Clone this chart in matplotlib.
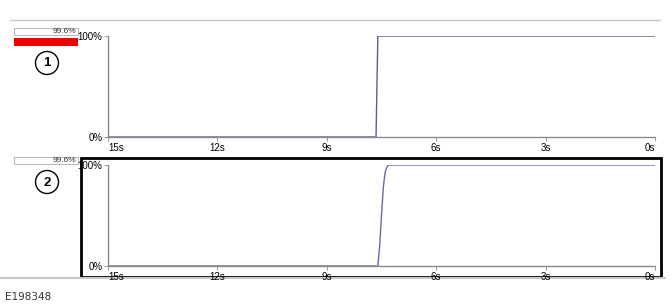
import matplotlib.pyplot as plt
from matplotlib.patches import Rectangle, Circle

# Trace 1: sharp step, trace 2: slightly slower rise (time runs from 15s down to 0s)
t1 = [15, 7.65, 7.6, 0]
v1 = [0, 0, 100, 100]
t2 = [15, 7.6, 7.55, 7.5, 7.45, 7.4, 7.35, 7.3, 0]
v2 = [0, 0, 20, 50, 78, 93, 98, 100, 100]
ticks = [15, 12, 9, 6, 3, 0]
tick_labels = ['15s', '12s', '9s', '6s', '3s', '0s']
readouts = ['99.6%', '99.6%']

W, H = 672, 304
fig = plt.figure(figsize=(W / 100, H / 100), dpi=100)
plt.rcParams['font.family'] = ['Liberation Sans', 'DejaVu Sans']

# background axes in pixel coordinates for the decorations
bg = fig.add_axes([0, 0, 1, 1])
bg.set_xlim(0, W)
bg.set_ylim(H, 0)
bg.axis('off')

bg.plot([10, 660], [20, 20], color='#c8c8c8', lw=1)
bg.plot([0, 665], [278, 278], color='#c8c8c8', lw=1.5)
bg.text(5, 297, 'E198348', fontsize=7.5, va='center', ha='left', color='#333333',
        family='DejaVu Sans')

# readout boxes + circled numbers
for i, (y0, cy) in enumerate([(28, 63), (157, 182)]):
    bg.add_patch(Rectangle((14, y0), 64, 7, fill=False, ec='#bbbbbb', lw=0.8))
    bg.text(76, y0 + 3.5, readouts[i], fontsize=6, ha='right', va='center', color='#333333')
    bg.add_patch(Circle((47, cy), 11.5, fill=False, ec='black', lw=1))
    bg.text(47, cy + 0.5, str(i + 1), fontsize=9.5, fontweight='bold', ha='center', va='center')
bg.add_patch(Rectangle((14, 38), 64, 8, color='#ee0000', lw=0))

# black frame round the second plot
bg.add_patch(Rectangle((81, 158), 580, 119, fill=False, ec='black', lw=2))


def trace_axes(ytop, ybot, t, v, col):
    ax = fig.add_axes([108 / W, 1 - ybot / H, 547 / W, (ybot - ytop) / H])
    ax.plot(t, v, color=col, lw=1)
    ax.set_xlim(15, 0)
    ax.set_ylim(0, 100)
    for s in ['top', 'right']:
        ax.spines[s].set_visible(False)
    for s in ['left', 'bottom']:
        ax.spines[s].set_color('#8a8a8a')
        ax.spines[s].set_linewidth(1)
    ax.set_yticks([0, 100])
    ax.set_yticklabels(['0%', '100%'], fontsize=7)
    ax.set_xticks(ticks)
    ax.set_xticklabels(tick_labels, fontsize=7)
    labs = ax.get_xticklabels()
    labs[0].set_ha('left')
    labs[-1].set_ha('right')
    ax.tick_params(length=3, width=0.6, color='#8a8a8a', pad=1)
    ax.patch.set_alpha(0)
    return ax


trace_axes(36, 137, t1, v1, '#5c5c9c')
trace_axes(165, 266, t2, v2, '#6a6aa8')

fig.savefig('out.png', dpi=100)
